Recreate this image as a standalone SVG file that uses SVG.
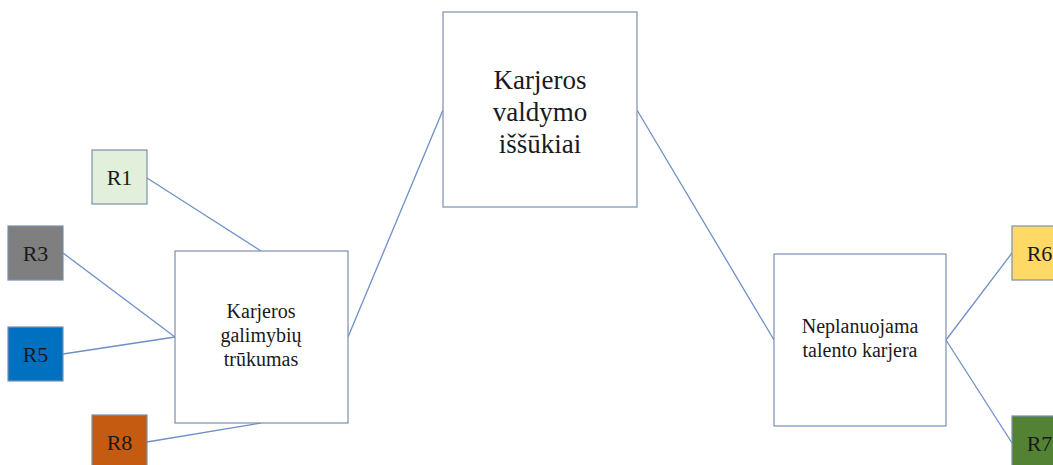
<svg xmlns="http://www.w3.org/2000/svg" width="1053" height="465" viewBox="0 0 1053 465">
  <style>
    .box { fill: #ffffff; stroke: #7b8fb0; stroke-width: 1.2; }
    .tag { stroke: #7b8fb0; stroke-width: 1.2; }
    .link { stroke: #6f8fc8; stroke-width: 1.3; fill: none; }
    text { font-family: "Liberation Serif", "Times New Roman", serif; fill: #1a1a1a; text-anchor: middle; }
    .big { font-size: 27px; }
    .mid { font-size: 20px; }
    .lbl { font-size: 22px; }
  </style>
  <rect width="1053" height="465" fill="#ffffff"/>

  <!-- straight links between the boxes -->
  <g id="connectors">
    <line class="link" x1="147" y1="178" x2="261" y2="251"/>
    <line class="link" x1="63" y1="253" x2="175" y2="337"/>
    <line class="link" x1="63" y1="354" x2="175" y2="337"/>
    <line class="link" x1="147" y1="442" x2="261" y2="423"/>
    <line class="link" x1="348" y1="337" x2="443" y2="110"/>
    <line class="link" x1="637" y1="110" x2="774" y2="340"/>
    <line class="link" x1="946" y1="340" x2="1012" y2="253"/>
    <line class="link" x1="946" y1="340" x2="1012" y2="443"/>
  </g>

  <g id="center-node">
    <rect class="box" x="443" y="12" width="194" height="195"/>
    <text class="big" x="540" y="89">Karjeros</text>
    <text class="big" x="540" y="121">valdymo</text>
    <text class="big" x="540" y="153">iššūkiai</text>
  </g>

  <g id="left-node">
    <rect class="box" x="175" y="251" width="173" height="172"/>
    <text class="mid" x="261" y="318">Karjeros</text>
    <text class="mid" x="261" y="342">galimybių</text>
    <text class="mid" x="261" y="366">trūkumas</text>
  </g>

  <g id="right-node">
    <rect class="box" x="774" y="254" width="172" height="172"/>
    <text class="mid" x="860" y="333">Neplanuojama</text>
    <text class="mid" x="860" y="357">talento karjera</text>
  </g>

  <g id="r1">
    <rect class="tag" x="92" y="150" width="55" height="54" fill="#e2efda"/>
    <text class="lbl" x="119.5" y="185">R1</text>
  </g>
  <g id="r3">
    <rect class="tag" x="8" y="226" width="55" height="54" fill="#7f7f7f"/>
    <text class="lbl" x="35.5" y="261">R3</text>
  </g>
  <g id="r5">
    <rect class="tag" x="8" y="327" width="55" height="54" fill="#0070c0"/>
    <text class="lbl" x="35.5" y="362">R5</text>
  </g>
  <g id="r8">
    <rect class="tag" x="92" y="415" width="55" height="54" fill="#c55a11"/>
    <text class="lbl" x="119.5" y="450">R8</text>
  </g>
  <g id="r6">
    <rect class="tag" x="1012" y="226" width="55" height="54" fill="#ffd966"/>
    <text class="lbl" x="1039.5" y="261">R6</text>
  </g>
  <g id="r7">
    <rect class="tag" x="1012" y="416" width="55" height="54" fill="#548235"/>
    <text class="lbl" x="1039.5" y="451">R7</text>
  </g>
</svg>
